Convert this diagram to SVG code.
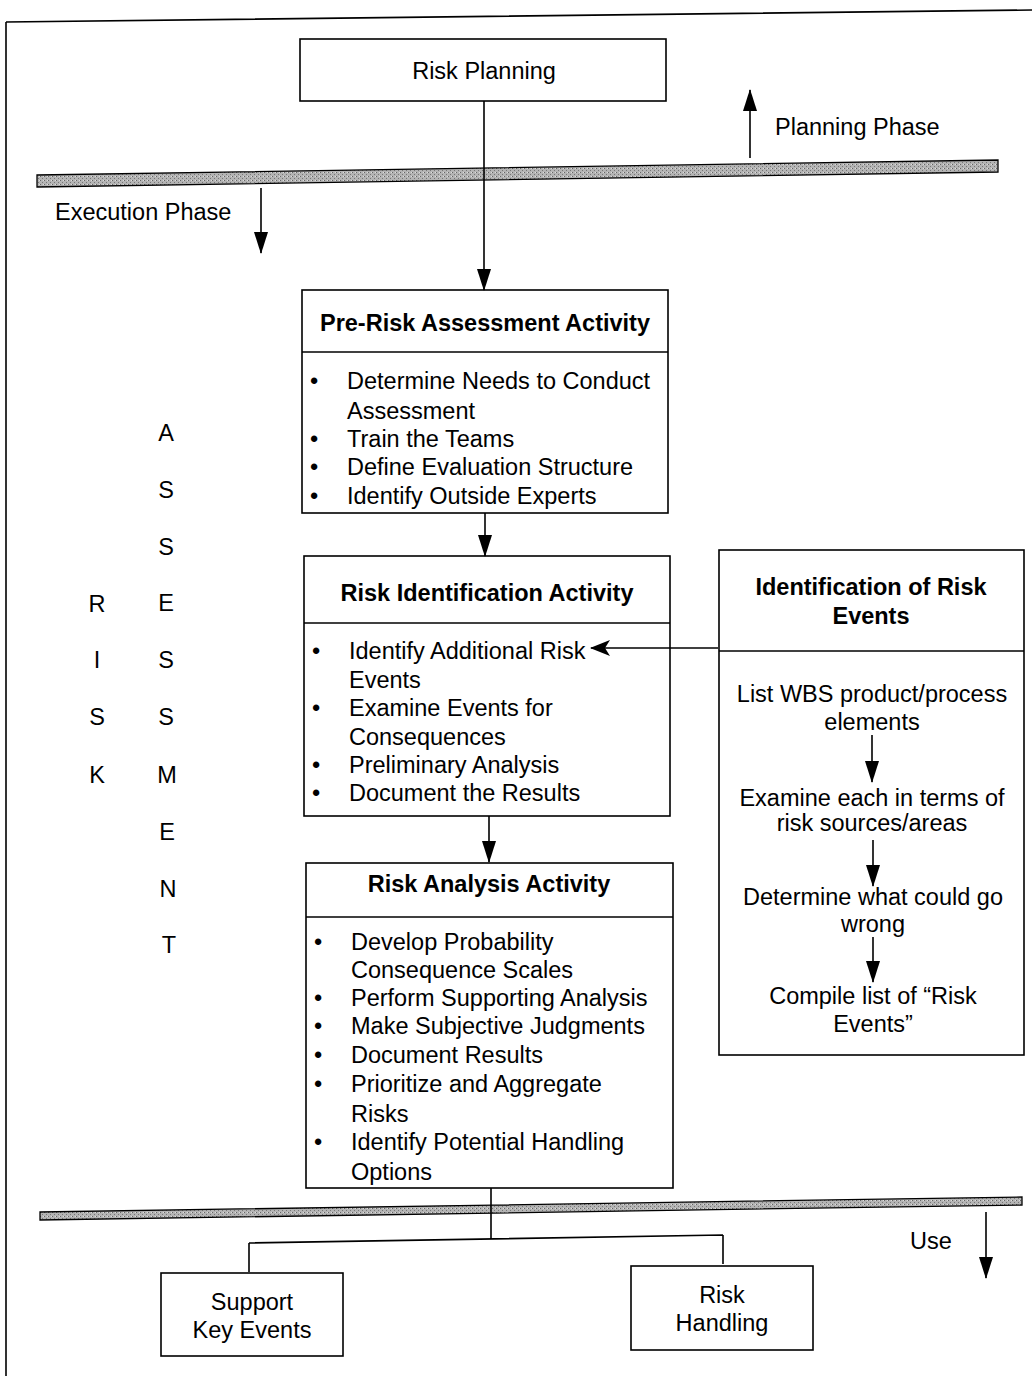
<svg xmlns="http://www.w3.org/2000/svg" width="1032" height="1376" viewBox="0 0 1032 1376">
<defs>
<marker id="ah" markerWidth="22" markerHeight="14" refX="21" refY="7" orient="auto" markerUnits="userSpaceOnUse"><path d="M0,0 L22,7 L0,14 z" fill="#000"/></marker>
<marker id="ahb" markerWidth="20" markerHeight="16" refX="19" refY="8" orient="auto" markerUnits="userSpaceOnUse"><path d="M0,0 L20,8 L0,16 L5,8 z" fill="#000"/></marker>
<pattern id="gray" width="4" height="4" patternUnits="userSpaceOnUse"><rect width="4" height="4" fill="#b4b4b4"/><rect x="0" y="0" width="1" height="1" fill="#666"/><rect x="2" y="2" width="1" height="1" fill="#777"/><rect x="3" y="0" width="1" height="1" fill="#ddd"/></pattern>
</defs>
<style>
text{font-family:"Liberation Sans",Arial,sans-serif;font-size:23.5px;fill:#000}
.b{font-weight:bold;font-size:23.5px}
.c{text-anchor:middle}
.box{fill:#fff;stroke:#000;stroke-width:1.6}
.ln{stroke:#000;stroke-width:1.6;fill:none}
.bar{fill:url(#gray);stroke:#000;stroke-width:1.3}
</style>
<rect width="1032" height="1376" fill="#fff"/>
<g id="frame">
<path class="ln" d="M6,22 L1032,10 M6,22 L6,1376"/>
</g>
<g id="bars">
<polygon class="bar" points="37,175 998,160 998,172 37,187"/>
<polygon class="bar" points="40,1212 1022,1197 1022,1205 40,1220"/>
</g>
<g id="risk-planning">
<rect class="box" x="300" y="39" width="366" height="62"/>
<text class="c" x="484" y="79">Risk Planning</text>
</g>
<g id="phase-labels">
<text x="775" y="135">Planning Phase</text>
<text x="55" y="220">Execution Phase</text>
<text x="910" y="1249">Use</text>
</g>
<g id="pre-risk">
<rect class="box" x="302" y="290" width="366" height="223"/>
<line class="ln" x1="302" y1="352" x2="668" y2="352"/>
<text class="b c" x="485" y="331">Pre-Risk Assessment Activity</text>
<text x="310" y="389">•</text><text x="347" y="389">Determine Needs to Conduct</text>
<text x="347" y="419">Assessment</text>
<text x="310" y="447">•</text><text x="347" y="447">Train the Teams</text>
<text x="310" y="475">•</text><text x="347" y="475">Define Evaluation Structure</text>
<text x="310" y="504">•</text><text x="347" y="504">Identify Outside Experts</text>
</g>
<g id="risk-identification">
<rect class="box" x="304" y="556" width="366" height="260"/>
<line class="ln" x1="304" y1="623" x2="670" y2="623"/>
<text class="b c" x="487" y="601">Risk Identification Activity</text>
<text x="312" y="659">•</text><text x="349" y="659">Identify Additional Risk</text>
<text x="349" y="688">Events</text>
<text x="312" y="716">•</text><text x="349" y="716">Examine Events for</text>
<text x="349" y="745">Consequences</text>
<text x="312" y="773">•</text><text x="349" y="773">Preliminary Analysis</text>
<text x="312" y="801">•</text><text x="349" y="801">Document the Results</text>
</g>
<g id="risk-analysis">
<rect class="box" x="306" y="863" width="367" height="325"/>
<line class="ln" x1="306" y1="917" x2="673" y2="917"/>
<text class="b c" x="489" y="892">Risk Analysis Activity</text>
<text x="314" y="950">•</text><text x="351" y="950">Develop Probability</text>
<text x="351" y="978">Consequence Scales</text>
<text x="314" y="1006">•</text><text x="351" y="1006">Perform Supporting Analysis</text>
<text x="314" y="1034">•</text><text x="351" y="1034">Make Subjective Judgments</text>
<text x="314" y="1063">•</text><text x="351" y="1063">Document Results</text>
<text x="314" y="1092">•</text><text x="351" y="1092">Prioritize and Aggregate</text>
<text x="351" y="1122">Risks</text>
<text x="314" y="1150">•</text><text x="351" y="1150">Identify Potential Handling</text>
<text x="351" y="1180">Options</text>
</g>
<g id="identification-events">
<rect class="box" x="719" y="550" width="305" height="505"/>
<line class="ln" x1="719" y1="651" x2="1024" y2="651"/>
<text class="b c" x="871" y="595">Identification of Risk</text>
<text class="b c" x="871" y="624">Events</text>
<text class="c" x="872" y="702">List WBS product/process</text>
<text class="c" x="872" y="730">elements</text>
<text class="c" x="872" y="806">Examine each in terms of</text>
<text class="c" x="872" y="831">risk sources/areas</text>
<text class="c" x="873" y="905">Determine what could go</text>
<text class="c" x="873" y="932">wrong</text>
<text class="c" x="873" y="1004">Compile list of “Risk</text>
<text class="c" x="873" y="1032">Events”</text>
</g>
<g id="risk-assessment-label">
<text class="c" x="166" y="441">A</text>
<text class="c" x="166" y="498">S</text>
<text class="c" x="166" y="555">S</text>
<text class="c" x="166" y="611">E</text>
<text class="c" x="166" y="668">S</text>
<text class="c" x="166" y="725">S</text>
<text class="c" x="167" y="783">M</text>
<text class="c" x="167" y="840">E</text>
<text class="c" x="168" y="897">N</text>
<text class="c" x="169" y="953">T</text>
<text class="c" x="97" y="612">R</text>
<text class="c" x="97" y="668">I</text>
<text class="c" x="97" y="725">S</text>
<text class="c" x="97" y="783">K</text>
</g>
<g id="support-key-events">
<rect class="box" x="161" y="1273" width="182" height="83"/>
<text class="c" x="252" y="1310">Support</text>
<text class="c" x="252" y="1338">Key Events</text>
</g>
<g id="risk-handling">
<rect class="box" x="631" y="1266" width="182" height="84"/>
<text class="c" x="722" y="1303">Risk</text>
<text class="c" x="722" y="1331">Handling</text>
</g>
<g id="connectors">
<line class="ln" x1="484" y1="101" x2="484" y2="290" marker-end="url(#ah)"/>
<line class="ln" x1="485" y1="513" x2="485" y2="556" marker-end="url(#ah)"/>
<line class="ln" x1="489" y1="816" x2="489" y2="862" marker-end="url(#ah)"/>
<line class="ln" x1="718" y1="648" x2="591" y2="648" marker-end="url(#ahb)"/>
<line class="ln" x1="872" y1="735" x2="872" y2="782" marker-end="url(#ah)"/>
<line class="ln" x1="873" y1="840" x2="873" y2="886" marker-end="url(#ah)"/>
<line class="ln" x1="873" y1="937" x2="873" y2="982" marker-end="url(#ah)"/>
<line class="ln" x1="750" y1="158" x2="750" y2="90" marker-end="url(#ah)"/>
<line class="ln" x1="261" y1="188" x2="261" y2="253" marker-end="url(#ah)"/>
<line class="ln" x1="986" y1="1212" x2="986" y2="1278" marker-end="url(#ah)"/>
<path class="ln" d="M491,1188 L491,1240 M249,1243 L723,1235 M249,1243 L249,1272 M723,1235 L723,1264"/>
</g>
</svg>
